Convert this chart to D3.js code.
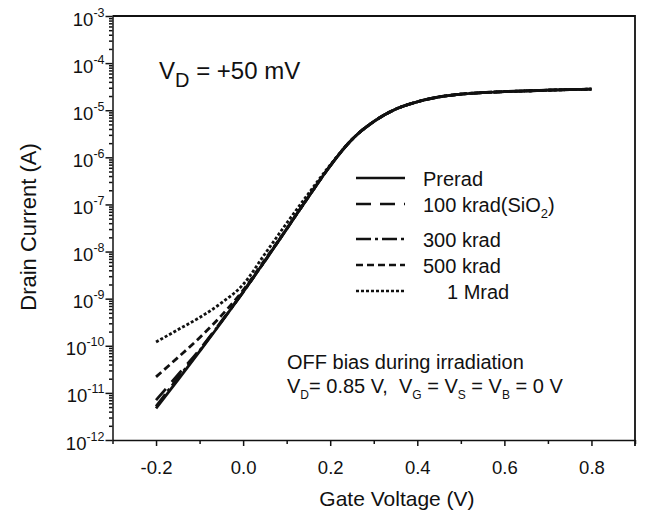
<!DOCTYPE html>
<html>
<head>
<meta charset="utf-8">
<script src="https://cdn.jsdelivr.net/npm/d3@7"></script>
<style>
  body { margin: 0; background: #fff; }
  svg text { font-family: "Liberation Sans", Arial, sans-serif; fill: #111; }
</style>
</head>
<body>
<div id="chart"></div>
<script>
// gate voltage grid (V)
const gateVoltage = [-0.2, -0.15, -0.1, -0.05, 0.0, 0.05, 0.1, 0.15, 0.2, 0.25, 0.3,
  0.35, 0.4, 0.45, 0.5, 0.55, 0.6, 0.65, 0.7, 0.75, 0.8];

// drain current (A) for each dose
const prerad = [4.68e-12, 1.86e-11, 7.59e-11, 3.16e-10, 1.38e-9, 6.31e-9, 3.02e-8, 1.45e-7,
  6.61e-7, 2.40e-6, 5.75e-6, 1.05e-5, 1.51e-5, 1.91e-5, 2.19e-5, 2.37e-5, 2.48e-5,
  2.57e-5, 2.66e-5, 2.74e-5, 2.80e-5];
const krad100 = [7.0e-12, 2.4e-11, 8.3e-11, 3.3e-10, 1.41e-9, 6.31e-9, 3.02e-8, 1.45e-7,
  6.61e-7, 2.40e-6, 5.75e-6, 1.05e-5, 1.51e-5, 1.91e-5, 2.19e-5, 2.37e-5, 2.48e-5,
  2.57e-5, 2.66e-5, 2.74e-5, 2.80e-5];
const krad300 = [5.2e-12, 2.05e-11, 7.9e-11, 3.24e-10, 1.38e-9, 6.31e-9, 3.02e-8, 1.45e-7,
  6.61e-7, 2.40e-6, 5.75e-6, 1.05e-5, 1.51e-5, 1.91e-5, 2.19e-5, 2.37e-5, 2.48e-5,
  2.57e-5, 2.66e-5, 2.74e-5, 2.80e-5];
const krad500 = [2.19e-11, 5.62e-11, 1.48e-10, 4.37e-10, 1.51e-9, 6.76e-9, 3.02e-8, 1.45e-7,
  6.61e-7, 2.40e-6, 5.75e-6, 1.05e-5, 1.51e-5, 1.91e-5, 2.19e-5, 2.37e-5, 2.48e-5,
  2.57e-5, 2.66e-5, 2.74e-5, 2.80e-5];
const mrad1 = [1.20e-10, 2.19e-10, 3.98e-10, 8.1e-10, 2.0e-9, 8.9e-9, 4.0e-8, 1.7e-7,
  6.9e-7, 2.40e-6, 5.75e-6, 1.05e-5, 1.51e-5, 1.91e-5, 2.19e-5, 2.37e-5, 2.48e-5,
  2.57e-5, 2.66e-5, 2.74e-5, 2.80e-5];

const seriesNames = ['Prerad', '100 krad(SiO2)', '300 krad', '500 krad', '1 Mrad'];
const seriesValues = [prerad, krad100, krad300, krad500, mrad1];
const dashes = ['none', '15,9', '15,4,3,4', '7,4', '3,2'];

const xTicks = [-0.2, 0.0, 0.2, 0.4, 0.6, 0.8];
const xMinor = [-0.3, -0.1, 0.1, 0.3, 0.5, 0.7, 0.9];
const yExponents = [-12, -11, -10, -9, -8, -7, -6, -5, -4, -3];

const width = 645, height = 518;
const margin = {top: 16, right: 10, bottom: 78, left: 112.5};
const innerW = 635 - margin.left;
const innerH = 440 - margin.top;

const svg = d3.select('#chart').append('svg')
    .attr('width', width)
    .attr('height', height);

const x = d3.scaleLinear().domain([-0.3, 0.9]).range([0, innerW]);
const y = d3.scaleLog().domain([1e-12, 1e-3]).range([innerH, 0]);

const g = svg.append('g')
    .attr('transform', `translate(${margin.left},${margin.top})`);

// x axis: major + minor ticks pointing down
const xAxis = g.append('g')
    .attr('transform', `translate(0,${innerH})`)
    .call(d3.axisBottom(x).tickValues(xTicks).tickSize(6).tickSizeOuter(0)
      .tickFormat(d => d3.format('.1f')(d).replace('−', '-')));
g.append('g')
    .attr('transform', `translate(0,${innerH})`)
    .call(d3.axisBottom(x).tickValues(xMinor).tickSize(4).tickFormat(''))
    .select('.domain').remove();
xAxis.selectAll('text')
    .attr('font-size', 18.5)
    .attr('dy', null)
    .attr('y', 34);

// y axis: log scale with superscript labels
const yMajor = yExponents.map(e => Math.pow(10, e));
const yMinorVals = y.ticks().filter(v => !yMajor.some(m => Math.abs(m - v) / m < 1e-6));
const yAxis = g.append('g')
    .call(d3.axisLeft(y).tickValues(yMajor).tickSize(7).tickSizeOuter(0).tickFormat(''));
g.append('g')
    .call(d3.axisLeft(y).tickValues(yMinorVals).tickSize(3.5).tickFormat(''))
    .select('.domain').remove();

yAxis.selectAll('.tick').each(function(d, i) {
  const t = d3.select(this).append('text')
      .attr('x', -8)
      .attr('y', 9)
      .attr('text-anchor', 'end')
      .attr('font-size', 18.5)
      .style('fill', '#111');
  t.append('tspan').text('10');
  t.append('tspan').attr('dy', -9).attr('font-size', 12.5).text(String(yExponents[i]));
});

g.selectAll('.domain, .tick line').attr('stroke', '#111').attr('stroke-width', 1.5);

// top & right frame
g.append('path')
    .attr('d', `M0,0H${innerW}V${innerH + 6}`)
    .attr('fill', 'none')
    .attr('stroke', '#111')
    .attr('stroke-width', 1.8);

// curves
const line = d3.line()
    .x((d, i) => x(gateVoltage[i]))
    .y(d => y(d))
    .curve(d3.curveMonotoneX);

seriesValues.slice().reverse().forEach((vals, k) => {
  const idx = seriesValues.length - 1 - k;
  g.append('path')
      .datum(vals)
      .attr('d', line)
      .attr('fill', 'none')
      .attr('stroke', '#111')
      .attr('stroke-width', 2.8)
      .attr('stroke-dasharray', dashes[idx]);
});

// legend
const legendRowsY = [178, 204, 239, 265, 291];
const legend = svg.append('g');
seriesNames.forEach((name, i) => {
  legend.append('line')
      .attr('x1', 356).attr('x2', 405)
      .attr('y1', legendRowsY[i]).attr('y2', legendRowsY[i])
      .attr('stroke', '#111')
      .attr('stroke-width', 2.5)
      .attr('stroke-dasharray', dashes[i]);
  const t = legend.append('text')
      .attr('x', i === 4 ? 447 : 423)
      .attr('y', legendRowsY[i] + 8)
      .attr('font-size', 20);
  if (i === 1) {
    t.append('tspan').text('100 krad(SiO');
    t.append('tspan').attr('dy', 6).attr('font-size', 13).text('2');
    t.append('tspan').attr('dy', -6).text(')');
  } else {
    t.text(name);
  }
});

// annotations
const vd = svg.append('text').attr('x', 159).attr('y', 79).attr('font-size', 24);
vd.append('tspan').text('V');
vd.append('tspan').attr('dy', 8).attr('font-size', 20).text('D');
vd.append('tspan').attr('dy', -8).text(' = +50 mV');

svg.append('text')
    .attr('x', 287).attr('y', 369)
    .attr('font-size', 20)
    .text('OFF bias during irradiation');

const bias = svg.append('text').attr('x', 287).attr('y', 393).attr('font-size', 20)
    .attr('xml:space', 'preserve');
const parts = [['V', 'D', '= 0.85 V,  '], ['V', 'G', ' = '], ['V', 'S', ' = '], ['V', 'B', ' = 0 V']];
parts.forEach(p => {
  bias.append('tspan').text(p[0]);
  bias.append('tspan').attr('dy', 6).attr('font-size', 12).text(p[1]);
  bias.append('tspan').attr('dy', -6).text(p[2]);
});

// axis titles
svg.append('text')
    .attr('x', 397).attr('y', 506)
    .attr('text-anchor', 'middle')
    .attr('font-size', 21)
    .text('Gate Voltage (V)');

svg.append('text')
    .attr('transform', 'translate(36,227) rotate(-90)')
    .attr('text-anchor', 'middle')
    .attr('font-size', 22)
    .text('Drain Current (A)');
</script>
</body>
</html>
